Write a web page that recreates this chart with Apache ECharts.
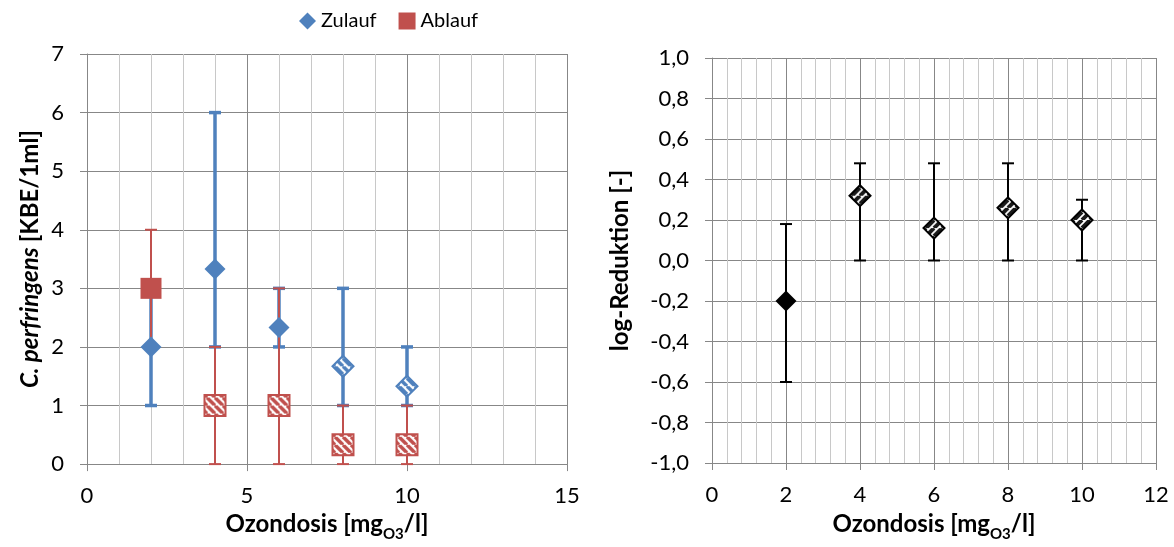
<!DOCTYPE html>
<html>
<head>
<meta charset="utf-8">
<script src="https://cdn.jsdelivr.net/npm/echarts@6/dist/echarts.min.js"></script>
<style>
  html, body { margin: 0; padding: 0; background: #fff; }
  #chart { width: 1174px; height: 547px; }
</style>
</head>
<body>
<div id="chart"></div>
<script>
// Ozondosis (x) for both charts
const doses = [2, 4, 6, 8, 10];
// C. perfringens [KBE/1ml]
const zulaufMean = [2, 3.33, 2.33, 1.67, 1.33];
const zulaufMin = [1, 2, 2, 1, 1];
const zulaufMax = [3, 6, 3, 3, 2];
const ablaufMean = [3, 1, 1, 0.33, 0.33];
const ablaufMin = [2, 0, 0, 0, 0];
const ablaufMax = [4, 2, 3, 1, 1];
// log-Reduktion [-]
const logMean = [-0.2, 0.32, 0.16, 0.26, 0.2];
const logMin = [-0.6, 0, 0, 0, 0];
const logMax = [0.18, 0.48, 0.48, 0.48, 0.3];

const FONT = "Lato, 'Open Sans', sans-serif";
const BLUE = "#4F81BD";
const RED = "#C0504D";
const GRID_DARK = "#878787";
const GRID_LIGHT = "#c8c8c8";
const MARK = 21;

// which points are drawn hatched instead of solid
const zulaufHatched = [false, false, false, true, true];
const ablaufHatched = [false, true, true, true, true];
const logHatched = [false, true, true, true, true];

// striped fill like the excel pattern
// symbols are drawn at unit size and scaled up, so the pattern is scaled back down
function hatch(color, width, dir) {
  const s = 8;
  const c = document.createElement("canvas");
  c.width = s;
  c.height = s;
  const ctx = c.getContext("2d");
  ctx.fillStyle = "#fff";
  ctx.fillRect(0, 0, s, s);
  ctx.strokeStyle = color;
  ctx.lineWidth = width;
  ctx.beginPath();
  for (let k = -1; k <= 1; k++) {
    if (dir > 0) {
      ctx.moveTo(k * s, s);
      ctx.lineTo(k * s + s, 0);
    } else {
      ctx.moveTo(k * s, 0);
      ctx.lineTo(k * s + s, s);
    }
  }
  ctx.stroke();
  return { image: c, repeat: "repeat", scaleX: 2 / MARK, scaleY: 2 / MARK };
}

function points(means, hatched, color, pattern) {
  return doses.map((d, i) => ({
    value: [d, means[i]],
    itemStyle: hatched[i]
      ? { color: pattern, borderColor: color, borderWidth: 2, opacity: 1 }
      : { color: color, opacity: 1 },
  }));
}

function errorBars(name, axis, lows, highs, color, width, cap, z) {
  return {
    type: "custom",
    name: name,
    xAxisIndex: axis,
    yAxisIndex: axis,
    clip: false,
    z: z,
    silent: true,
    data: doses.map((d, i) => [d, lows[i], highs[i]]),
    renderItem: function (params, api) {
      const x = api.value(0);
      const lo = api.coord([x, api.value(1)]);
      const hi = api.coord([x, api.value(2)]);
      const st = { stroke: color, lineWidth: width };
      return {
        type: "group",
        children: [
          { type: "line", shape: { x1: lo[0], y1: lo[1], x2: hi[0], y2: hi[1] }, style: st },
          { type: "line", shape: { x1: lo[0] - cap / 2, y1: lo[1], x2: lo[0] + cap / 2, y2: lo[1] }, style: st },
          { type: "line", shape: { x1: hi[0] - cap / 2, y1: hi[1], x2: hi[0] + cap / 2, y2: hi[1] }, style: st },
        ],
      };
    },
  };
}

const labelStyle = { color: "#000", fontSize: 22, fontFamily: FONT };
const TITLE = 24;
const xRich = {
  b: { fontSize: TITLE, fontWeight: "bold", fontFamily: FONT, color: "#000", padding: [0, 0, 6, 0], verticalAlign: "bottom" },
  s: { fontSize: 15, fontWeight: "bold", fontFamily: FONT, color: "#000", verticalAlign: "bottom" },
};
const yRich = {
  b: { fontSize: TITLE, fontWeight: "bold", fontFamily: FONT, color: "#000" },
  i: { fontSize: TITLE, fontWeight: "bold", fontStyle: "italic", fontFamily: FONT, color: "#000" },
};

function valueAxis(extra) {
  return Object.assign(
    {
      type: "value",
      axisLine: { show: true, onZero: false, lineStyle: { color: GRID_DARK } },
      axisTick: { show: true, length: 7, lineStyle: { color: GRID_DARK } },
      axisLabel: Object.assign({ margin: 21 }, labelStyle),
      splitLine: { show: true, lineStyle: { color: GRID_DARK } },
      nameLocation: "middle",
    },
    extra
  );
}

const xName = "{b|Ozondosis [mg}{s|O3}{b|/l]}";

const chart = echarts.init(document.getElementById("chart"));
const option = {
  animation: false,
  textStyle: { fontFamily: FONT },
  legend: {
    top: 6,
    left: 294,
    itemGap: 22,
    itemWidth: 17,
    itemHeight: 17,
    textStyle: { color: "#000", fontSize: 20, fontFamily: FONT },
    data: [
      { name: "Zulauf", icon: "diamond", itemStyle: { color: BLUE, opacity: 1 } },
      { name: "Ablauf", icon: "rect", itemStyle: { color: RED, opacity: 1 } },
    ],
  },
  grid: [
    { left: 87, top: 54, width: 480, height: 413 },
    { left: 712, top: 58, width: 444, height: 406 },
  ],
  xAxis: [
    valueAxis({
      gridIndex: 0, min: 0, max: 15, interval: 5,
      minorTick: { show: false, splitNumber: 5 },
      minorSplitLine: { show: true, lineStyle: { color: GRID_LIGHT } },
      name: xName, nameGap: 46, nameTextStyle: { rich: xRich },
    }),
    valueAxis({
      gridIndex: 1, min: 0, max: 12, interval: 2,
      minorTick: { show: false, splitNumber: 5 },
      minorSplitLine: { show: true, lineStyle: { color: GRID_LIGHT } },
      name: xName, nameGap: 49, nameTextStyle: { rich: xRich },
    }),
  ],
  yAxis: [
    valueAxis({
      gridIndex: 0, min: 0, max: 7, interval: 1,
      axisLabel: Object.assign({ margin: 23 }, labelStyle),
      name: "{i|C. perfringens }{b|[KBE/1ml]}", nameGap: 45, nameTextStyle: { rich: yRich },
    }),
    valueAxis({
      gridIndex: 1, min: -1, max: 1, interval: 0.2,
      axisLabel: Object.assign({ margin: 23, formatter: (v) => (Math.abs(v) < 1e-9 ? 0 : v).toFixed(1).replace(".", ",") }, labelStyle),
      name: "{b|log-Reduktion [-]}", nameGap: 80, nameTextStyle: { rich: yRich },
    }),
  ],
  series: [
    errorBars("Zulauf Fehler", 0, zulaufMin, zulaufMax, BLUE, 3.5, 12, 2),
    errorBars("Ablauf Fehler", 0, ablaufMin, ablaufMax, RED, 2, 12, 3),
    {
      type: "scatter", name: "Zulauf", xAxisIndex: 0, yAxisIndex: 0, z: 4,
      symbol: "diamond", symbolSize: MARK,
      itemStyle: { color: BLUE, opacity: 1 },
      data: points(zulaufMean, zulaufHatched, BLUE, hatch(BLUE, 3.5, -1)),
    },
    {
      type: "scatter", name: "Ablauf", xAxisIndex: 0, yAxisIndex: 0, z: 5,
      symbol: "rect", symbolSize: MARK,
      itemStyle: { color: RED, opacity: 1 },
      data: points(ablaufMean, ablaufHatched, RED, hatch(RED, 3.5, -1)),
    },
    errorBars("log Fehler", 1, logMin, logMax, "#000", 2, 12, 2),
    {
      type: "scatter", name: "log-Reduktion", xAxisIndex: 1, yAxisIndex: 1, z: 4,
      symbol: "diamond", symbolSize: MARK,
      itemStyle: { color: "#000", opacity: 1 },
      data: points(logMean, logHatched, "#000", hatch("#1a1a1a", 4, 1)),
    },
  ],
};
chart.setOption(option);
</script>
</body>
</html>
